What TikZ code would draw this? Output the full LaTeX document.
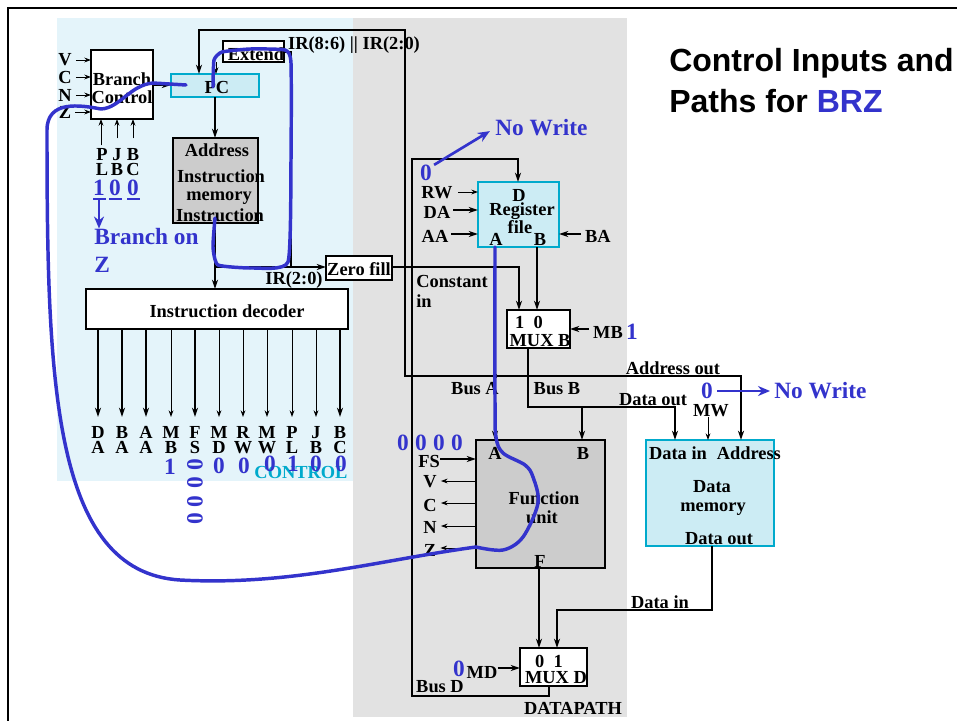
\documentclass[tikz,border=0pt]{standalone}
\usepackage{fontspec}
\setmainfont{Liberation Serif}
\newfontfamily\titlefont{Liberation Sans}
\usepackage{xcolor}
\usetikzlibrary{arrows.meta}
\definecolor{ctlbg}{RGB}{228,244,250}
\definecolor{dpbg}{RGB}{226,226,226}
\definecolor{cellfill}{RGB}{204,236,244}
\definecolor{cellline}{RGB}{0,170,204}
\definecolor{grayfill}{RGB}{204,204,204}
\definecolor{markblue}{RGB}{51,51,204}
\def\px{0.75pt}

\begin{document}
\begin{tikzpicture}[x=0.75pt, y=-0.75pt, >={Stealth[length=7pt,width=4.6pt]},
      wire/.style={draw=black, line width=1.1pt},
      thin wire/.style={draw=black, line width=0.7pt, >={Stealth[length=5pt,width=3.6pt]}},
      box/.style={draw=black, line width=1.5pt, inner sep=0pt, outer sep=0pt, fill=white},
      gbox/.style={box, fill=grayfill},
      cbox/.style={box, draw=cellline, fill=cellfill},
      lab/.style={font=\fontsize{13.8}{14}\bfseries\selectfont, inner sep=0pt, text=black},
      sig/.style={font=\fontsize{13.8}{11.5}\bfseries\selectfont, inner sep=0pt, align=center, text=black},
      bluetxt/.style={font=\fontsize{17.5}{18}\bfseries\selectfont, inner sep=0pt, text=markblue},
      markline/.style={draw=markblue, line width=2.2pt, line cap=round, line join=round},
      markarrow/.style={draw=markblue, line width=2pt, >={Stealth[length=9pt,width=7.5pt]}},
      title/.style={font=\titlefont\fontsize{24}{29}\bfseries\selectfont, inner sep=0pt, anchor=west}]

    \useasboundingbox (0,0) rectangle (957,721);
    \fill[white] (0,0) rectangle (957,721);
    \fill[ctlbg] (57,18) rectangle (353,481);
    \fill[dpbg] (353,18) rectangle (627,717);
    \draw[line width=1.5pt] (8,721) -- (8,8) -- (957,8);

    % title
    \node[title] (title1) at (669,63) {Control Inputs and};
    \node[title] (title2) at (669,101) {Paths for \textcolor{markblue}{BRZ}};

    % boxes
    \node[box, minimum width=62*\px, minimum height=69*\px] (brctl) at (122,84.5) {};
    \node[cbox, minimum width=88*\px, minimum height=23*\px] (pc) at (215,85.5) {};
    \node[box, minimum width=61*\px, minimum height=21*\px] (extend) at (253.5,51.5) {};
    \node[gbox, minimum width=85*\px, minimum height=85*\px] (imem) at (215.5,180.5) {};
    \node[box, minimum width=66*\px, minimum height=24*\px] (zfill) at (359,268) {};
    \node[box, minimum width=262*\px, minimum height=40*\px] (dec) at (217,309) {};
    \node[cbox, minimum width=81*\px, minimum height=65*\px] (regfile) at (518.5,214.5) {};
    \node[box, minimum width=63*\px, minimum height=38*\px] (muxb) at (538.5,329) {};
    \node[gbox, minimum width=129*\px, minimum height=128*\px] (fu) at (540.5,504) {};
    \node[cbox, minimum width=128*\px, minimum height=106*\px] (dmem) at (710,493) {};
    \node[box, minimum width=67*\px, minimum height=38*\px] (muxd) at (553.5,667) {};

    % box texts
    \node[lab] (tbranch) at (122,79) {Branch};
    \node[lab] (tcontrol) at (122,97) {Control};
    \node[lab] (tpc) at (217,87) {PC};
    \node[lab] (textend) at (256,54) {Extend};
    \node[lab] (taddr) at (217,150) {Address};
    \node[lab] (tinstr) at (221,176) {Instruction};
    \node[lab] (tmem) at (219,198) {memory};
    \node[lab] (tinstrout) at (220,215) {Instruction};
    \node[lab] (tdec) at (227,311) {Instruction decoder};
    \node[lab] (tzfill) at (359,269) {Zero fill};
    \node[lab] (tregd) at (519,195) {D};
    \node[lab] (treg) at (522,211) {Register};
    \node[lab] (tfile) at (520,227) {file};
    \node[lab] (trega) at (496,239) {A};
    \node[lab] (tregb) at (540,239) {B};
    \node[lab] (tmb10) at (529,322) {1\hspace{7pt}0};
    \node[lab] (tmuxb) at (540,341) {MUX B};
    \node[lab] (tfua) at (495,453) {A};
    \node[lab] (tfub) at (583,453) {B};
    \node[lab] (tfun) at (544,498) {Function};
    \node[lab] (tunit) at (542,517) {unit};
    \node[lab] (tfuf) at (540,561) {F};
    \node[lab] (tdin) at (715,453) {Data in\hspace{4pt} Address};
    \node[lab] (tdata) at (712,487) {Data};
    \node[lab] (tdmem) at (713,509) {memory};
    \node[lab] (tdout) at (719,539) {Data out};
    \node[lab] (tmd01) at (549,661) {0\hspace{7pt}1};
    \node[lab] (tmuxd) at (556,678) {MUX D};
    \node[lab, text=cellline] (tctl) at (301,472) {CONTROL};
    \node[lab] (tdp) at (573,708) {DATAPATH};

    % wire labels
    \node[lab] (lir86) at (354,45) {IR(8:6) || IR(2:0)};
    \node[lab] (lir20) at (294,280) {IR(2:0)};
    \node[lab, align=left, anchor=north west] (lconst) at (416,275) {Constant\\[1pt]in};
    \node[lab] (laddr) at (673,368) {Address out};
    \node[lab] (lbusa) at (475,389) {Bus A};
    \node[lab] (lbusb) at (557,389) {Bus B};
    \node[lab] (ldout) at (653,400) {Data out};
    \node[lab] (ldin) at (660,602) {Data in};
    \node[lab] (lbusd) at (440,687) {Bus D};

    % control inputs of branch control
    \node[lab] (lv) at (65,60) {V};
    \node[lab] (lc) at (65,77) {C};
    \node[lab] (ln) at (65,95) {N};
    \node[lab] (lz) at (65,112) {Z};
    \draw[thin wire, ->, shorten <=3pt] (lv) -- (brctl.west |- lv);
    \draw[thin wire, ->, shorten <=3pt] (lc) -- (brctl.west |- lc);
    \draw[thin wire, ->, shorten <=3pt] (ln) -- (brctl.west |- ln);
    \draw[thin wire, ->, shorten <=3pt] (lz) -- (brctl.west |- lz);
    \node[sig] (lpl) at (102,162) {P\\L};
    \node[sig] (ljb) at (117,162) {J\\B};
    \node[sig] (lbc) at (133,162) {B\\C};
    \draw[thin wire, ->, shorten <=2pt] (lpl.north -| 101,0) -- (101,119);
    \draw[thin wire, ->, shorten <=2pt] (ljb) ++(0,-21) -- (brctl.south -| ljb);
    \draw[thin wire, ->, shorten <=2pt] (lbc) ++(0,-21) -- (brctl.south -| lbc);

    % PC, memory, decoder
    \coordinate (pcin) at (199,74);
    \coordinate (irtop) at (405,30);
    \coordinate (irbot) at (405,376);
    \coordinate (abus) at (495,376);
    \coordinate (addrin) at (741,440);
    \coordinate (split) at (215,267);
    \coordinate (irr) at (291,267);
    \coordinate (extr) at (291,52);
    \draw[wire, ->] (brctl.east |- 0,85) -- (pc.west |- 0,85);
    \draw[wire, ->] (pc) ++(0,11.5) -- (imem.north -| pc);
    \draw[wire, ->] (imem.south -| split) -- (dec.north -| split);
    \draw[wire, ->] (split) -- (zfill.west |- split);
    \draw[wire] (irr) -- (extr) -- (extend.east |- extr);
    \draw[thin wire, ->] (extend.south -| 216,0) -- (216,74);
    \draw[wire, ->] (abus) -- (irbot) -- (irtop) -| (pcin);
    \draw[wire, ->] (abus) -| (addrin);
    \fill (abus) circle (2.5);

    % decoder outputs
    \node[sig] (oda) at (98,440) {D\\A};
    \node[sig] (oba) at (122,440) {B\\A};
    \node[sig] (oaa) at (146,440) {A\\A};
    \node[sig] (omb) at (171,440) {M\\B};
    \node[sig] (ofs) at (195,440) {F\\S};
    \node[sig] (omd) at (219,440) {M\\D};
    \node[sig] (orw) at (243,440) {R\\W};
    \node[sig] (omw) at (267,440) {M\\W};
    \node[sig] (opl) at (292,440) {P\\L};
    \node[sig] (ojb) at (316,440) {J\\B};
    \node[sig] (obc) at (340,440) {B\\C};
    \draw[wire, ->] (dec.south -| oda) -- (98,417);
    \draw[wire, ->] (dec.south -| oba) -- (122,417);
    \draw[wire, ->] (dec.south -| oaa) -- (146,417);
    \draw[thin wire, ->] (dec.south -| omb) -- (171,417);
    \draw[wire, ->] (dec.south -| ofs) -- (195,417);
    \draw[thin wire, ->] (dec.south -| omd) -- (219,417);
    \draw[thin wire, ->] (dec.south -| orw) -- (243,417);
    \draw[thin wire, ->] (dec.south -| omw) -- (267,417);
    \draw[thin wire, ->] (dec.south -| opl) -- (292,417);
    \draw[thin wire, ->] (dec.south -| ojb) -- (316,417);
    \draw[wire, ->] (dec.south -| obc) -- (340,417);

    % register file inputs
    \node[lab] (lrw) at (437,193) {RW};
    \node[lab] (lda) at (437,212) {DA};
    \node[lab] (laa) at (435,236) {AA};
    \node[lab] (lba) at (598,236) {BA};
    \draw[thin wire, ->, shorten <=4pt] (lrw.east |- 0,192) -- (regfile.west |- 0,192);
    \draw[wire, ->, shorten <=2pt] (lda.east |- 0,210) -- (regfile.west |- 0,210);
    \draw[wire, ->, shorten <=2pt] (laa.east |- 0,234) -- (regfile.west |- 0,234);
    \draw[wire, ->, shorten <=3pt] (lba.west |- 0,234) -- (regfile.east |- 0,234);

    % datapath buses
    \coordinate (dbusl) at (412,696);
    \coordinate (dbust) at (412,159);
    \coordinate (regdin) at (518,182);
    \coordinate (mb1) at (519,310);
    \coordinate (bbus) at (528,407);
    \coordinate (dmemin) at (675,440);
    \coordinate (fuain) at (495,440);
    \coordinate (fubin) at (582,440);
    \coordinate (mdmem) at (712,610);
    \coordinate (md1) at (557,648);
    \draw[wire, ->] (muxd.south -| 549,0) |- (dbusl) -- (dbust) -| (regdin);
    \draw[wire, ->] (zfill.east |- 0,267) -| (mb1);
    \draw[wire, ->] (regfile.south -| 537,0) -- (muxb.north -| 537,0);
    \draw[wire, ->] (regfile.south -| fuain) -- (fuain);
    \draw[wire, ->] (muxb.south -| bbus) -- (bbus) -| (dmemin);
    \draw[wire, ->] (fubin |- bbus) -- (fubin);
    \draw[wire, ->] (fu.south -| 539,0) -- (muxd.north -| 539,0);
    \draw[wire, ->] (dmem.south -| mdmem) -- (mdmem) -| (md1);

    % side signals
    \node[lab] (lmb) at (608,332) {MB};
    \node[lab] (lmw) at (711,411) {MW};
    \node[lab] (lmd) at (482,672) {MD};
    \node[lab] (lfs) at (429,461) {FS};
    \node[lab] (lfv) at (430,482) {V};
    \node[lab] (lfc) at (430,505) {C};
    \node[lab] (lfn) at (430,527) {N};
    \node[lab] (lfz) at (430,550) {Z};
    \draw[wire, ->, shorten <=3pt] (lmb.west |- 0,329) -- (muxb.east |- 0,329);
    \draw[thin wire, ->] (lmw.south -| 708,0) -- (dmem.north -| 708,0);
    \draw[wire, ->] (lmd.east |- 0,668) -- (muxd.west |- 0,668);
    \draw[wire, ->] (lfs.east |- 0,459) -- (fu.west |- 0,459);
    \draw[thin wire, ->, shorten >=3pt] (fu.west |- 0,481) -- (lfv.east |- 0,481);
    \draw[thin wire, ->, shorten >=3pt] (fu.west |- 0,503) -- (lfc.east |- 0,503);
    \draw[thin wire, ->, shorten >=3pt] (fu.west |- 0,526) -- (lfn.east |- 0,526);
    \draw[thin wire, ->, shorten >=3pt] (fu.west |- 0,548) -- (lfz.east |- 0,548);

    % control values
    \node[bluetxt] (vpl) at (99,188) {1};
    \node[bluetxt] (vjb) at (115,188) {0};
    \node[bluetxt] (vbc) at (133,188) {0};
    \draw[markline, line cap=butt] (93,199) -- (106,199);
    \draw[markline, line cap=butt] (109,199) -- (122,199);
    \draw[markline, line cap=butt] (127,199) -- (140,199);
    \node[bluetxt, anchor=west] (brz1) at (94,237) {Branch on};
    \node[bluetxt, anchor=west] (brz2) at (94,265) {Z};
    \coordinate (plout) at (99,199);
    \draw[markarrow, ->] (plout) -- (brz1.north -| plout);
    \node[bluetxt] (vmb) at (170,467) {1};
    \node[bluetxt, rotate=90] (vfs3) at (195,465) {0};
    \node[bluetxt, rotate=90] (vfs2) at (195,483) {0};
    \node[bluetxt, rotate=90] (vfs1) at (195,502) {0};
    \node[bluetxt, rotate=90] (vfs0) at (195,519) {0};
    \node[bluetxt] (vmd) at (219,466) {0};
    \node[bluetxt] (vrw) at (244,466) {0};
    \node[bluetxt] (vmw) at (270,464) {0};
    \node[bluetxt] (vpl2) at (293,464) {1};
    \node[bluetxt] (vjb2) at (316,464) {0};
    \node[bluetxt] (vbc2) at (341,464) {0};
    \node[bluetxt] (vf3) at (403,443) {0};
    \node[bluetxt] (vf2) at (421,443) {0};
    \node[bluetxt] (vf1) at (439,443) {0};
    \node[bluetxt] (vf0) at (457,443) {0};
    \node[bluetxt] (vmbb) at (632,332) {1};
    \node[bluetxt] (vmdd) at (459,669) {0};
    \node[bluetxt] (vrwr) at (426,173) {0};
    \node[bluetxt, anchor=west] (nowr1) at (495,128) {No Write};
    \draw[markarrow, ->, shorten >=4.5pt] (vrwr.north east) ++(2,0) -- (nowr1.west);
    \node[bluetxt] (vmww) at (707,391) {0};
    \node[bluetxt, anchor=west] (nowr2) at (774,391) {No Write};
    \draw[markarrow, ->, shorten <=3pt, shorten >=3pt] (vmww) -- (nowr2);

    % active paths
    \draw[markline, line width=2.6pt] (186,85) -- (153,83) .. controls (130,85) and (120,108) .. (101,109)
        .. controls (80,105) and (47,100) .. (47,130) .. controls (47,380) and (52,572) .. (180,580)
        .. controls (290,586) and (380,560) .. (476,547);
    \draw[markline, line width=2.6pt] plot[smooth, tension=0.55] coordinates {(476,547) (503,550) (523,537) (538,503) (533,477) (525,465) (503,453) (496,437) (495,400) (495,247)};
    \draw[markline, line width=2.6pt] plot[smooth, tension=0.3] coordinates {(213,87) (214,60) (222,52) (250,49) (285,50) (291,63) (291,160) (288,262) (253,268) (218,265) (213,247) (215,218)};
\end{tikzpicture}
\end{document}
